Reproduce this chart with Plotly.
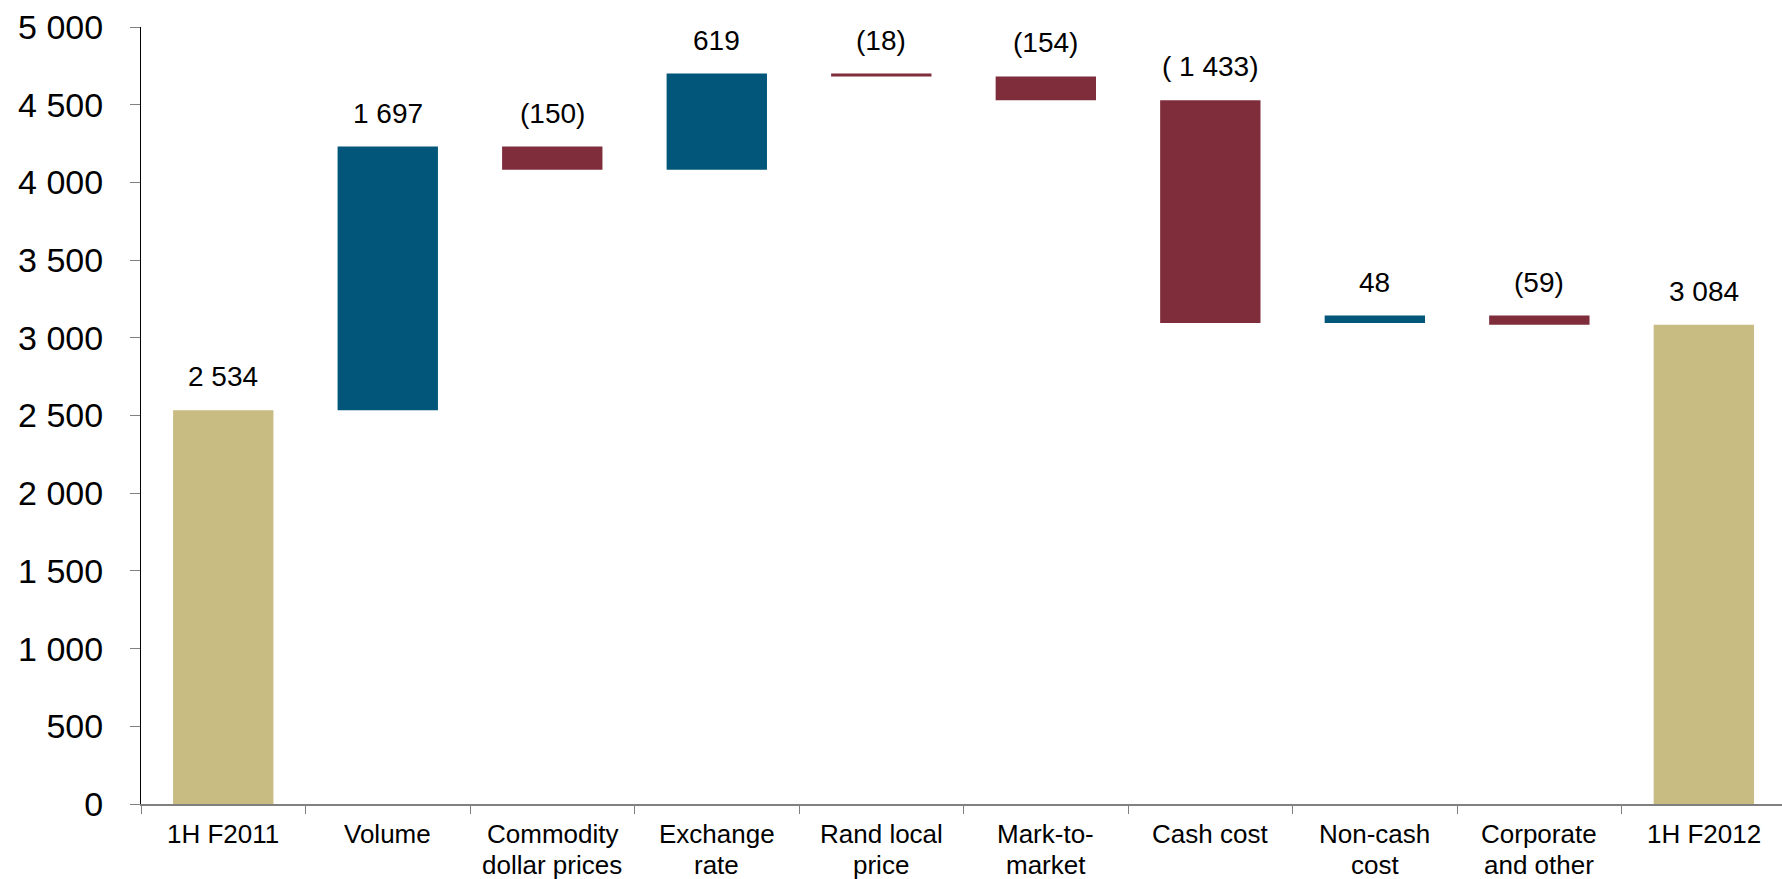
import numpy as np
import plotly.graph_objects as go

# Operating profit bridge, 1H F2011 -> 1H F2012
categories = [
    "1H F2011", "Volume", "Commodity dollar prices", "Exchange rate",
    "Rand local price", "Mark-to-market", "Cash cost",
    "Non-cash cost", "Corporate and other", "1H F2012",
]
# how each category name is broken onto lines under the axis
category_lines = [
    ["1H F2011"], ["Volume"], ["Commodity", "dollar prices"], ["Exchange", "rate"],
    ["Rand local", "price"], ["Mark-to-", "market"], ["Cash cost"],
    ["Non-cash", "cost"], ["Corporate", "and other"], ["1H F2012"],
]
opening = 2534
movements = [1697, -150, 619, -18, -154, -1433, 48, -59]
closing = 3084

y_ticks = [0, 500, 1000, 1500, 2000, 2500, 3000, 3500, 4000, 4500, 5000]

COL_TOTAL = "#C8BC82"
COL_UP = "#02567A"
COL_DOWN = "#7F2C3B"


def fmt(v):
    s = f"{abs(v):,}".replace(",", " ")
    if v < 0:
        return "(" + (" " if abs(v) >= 1000 else "") + s + ")"
    return s


# running levels for the floating bars
levels = np.concatenate([[opening], opening + np.cumsum(movements)])
starts = levels[:-1]
ends = levels[1:]

bases = [0] + list(np.minimum(starts, ends)) + [0]
heights = [opening] + [abs(m) for m in movements] + [closing]
colors = [COL_TOTAL] + [COL_UP if m > 0 else COL_DOWN for m in movements] + [COL_TOTAL]
tops = [b + h for b, h in zip(bases, heights)]
labels = [fmt(opening)] + [fmt(m) for m in movements] + [fmt(closing)]

fig = go.Figure(
    go.Bar(
        x=categories,
        y=heights,
        base=bases,
        marker=dict(color=colors, line=dict(width=0)),
        hoverinfo="skip",
    )
)

# value labels above each bar
for cat, top, lab in zip(categories, tops, labels):
    fig.add_annotation(
        x=cat, y=float(top), text=lab, showarrow=False,
        xanchor="center", yanchor="bottom", yshift=16,
        font=dict(family="Liberation Sans, Arial", size=28, color="#000000"),
    )

# category names under the axis, one annotation per line for tight spacing
for cat, lines in zip(categories, category_lines):
    for i, line in enumerate(lines):
        fig.add_annotation(
            x=cat, y=0, text=line, showarrow=False,
            xanchor="center", yanchor="top", yshift=-13 - 31 * i,
            font=dict(family="Liberation Sans Narrow, Liberation Sans, Arial",
                      size=26, color="#000000"),
        )

fig.update_layout(
    width=1782, height=879,
    margin=dict(l=141, r=0, t=27, b=75),
    paper_bgcolor="white", plot_bgcolor="white",
    showlegend=False,
    bargap=0.39,
    font=dict(family="Liberation Sans, Arial", color="#000000"),
)

fig.update_xaxes(
    type="category",
    range=[-0.5, 9.475],
    automargin=False,
    tickson="boundaries",
    ticks="outside", ticklen=8, tickwidth=1, tickcolor="#808080",
    showticklabels=False,
    showline=True, linecolor="#808080", linewidth=2,
    showgrid=False, zeroline=False,
)

fig.update_yaxes(
    range=[0, 5000],
    automargin=False,
    tickvals=y_ticks,
    ticktext=[f"{v:,}".replace(",", " ") for v in y_ticks],
    ticks="outside", ticklen=10, tickwidth=1, tickcolor="#808080",
    showline=True, linecolor="#000000", linewidth=1,
    showgrid=False, zeroline=False,
    ticklabelstandoff=20,
    tickfont=dict(family="Liberation Sans, Arial", size=34),
)

fig.write_html("out.html")
